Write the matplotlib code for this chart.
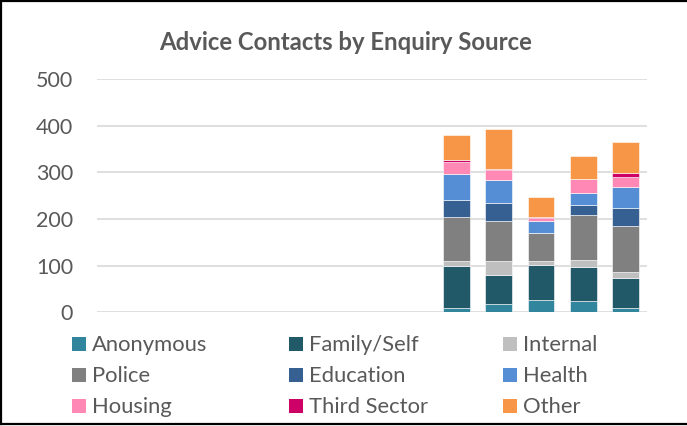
import matplotlib
matplotlib.use("Agg")
import matplotlib.pyplot as plt
from matplotlib.patches import Rectangle
from matplotlib.lines import Line2D
import numpy as np

# ---- data ----
periods = [str(i) for i in range(1, 14)]  # 13 periods, first 8 empty
series = ["Anonymous", "Family/Self", "Internal", "Police", "Education",
          "Health", "Housing", "Third Sector", "Other"]
empty = [np.nan] * 8
anonymous    = empty + [9, 18, 27, 24, 9]
family_self  = empty + [91, 61, 74, 73, 65]
internal     = empty + [11, 31, 10, 16, 12]
police       = empty + [93, 85, 58, 95, 100]
education    = empty + [37, 40, 0, 21, 38]
health       = empty + [56, 49, 26, 27, 45]
housing      = empty + [25, 22, 7, 29, 22]
third_sector = empty + [5, 2, 2, 0, 8]
other        = empty + [52, 85, 43, 49, 65]

values = [anonymous, family_self, internal, police, education,
          health, housing, third_sector, other]
colors = ["#31859C", "#215968", "#BFBFBF", "#808080", "#376092",
          "#558ED5", "#FF88B4", "#CC0066", "#F79646"]
yticks = [0, 100, 200, 300, 400, 500]

W, H = 687, 426
TXT = "#595959"
FONT = "Lato"
FS_LEG = 15.8
FS_TICK = 15.5
FS_TITLE = 17.2

fig = plt.figure(figsize=(W / 100, H / 100), dpi=100)
ax = fig.add_axes([96.7 / W, 1 - 312.3 / H, 550 / W, (312.3 - 79) / H])

x = np.arange(len(periods))
bottom = np.zeros(len(periods))
for name, vals, c in zip(series, values, colors):
    v = np.nan_to_num(np.array(vals, dtype=float))
    ax.bar(x, v, bottom=bottom, width=0.63, color=c, label=name,
           edgecolor="white", linewidth=0.4, zorder=3)
    bottom += v

ax.set_xlim(-0.5, len(periods) - 0.5)
ax.set_ylim(0, 500)
ax.set_yticks(yticks)
ax.set_yticklabels([str(t) for t in yticks], fontsize=FS_TICK, color=TXT, family=FONT)
ax.set_xticks([])
ax.tick_params(axis="y", length=0, pad=17)
for s in ax.spines.values():
    s.set_visible(False)
ax.grid(axis="y", color="#D9D9D9", linewidth=1.2, zorder=0)
ax.set_axisbelow(True)

# title
fig.text(345.9 / W, 1 - 50 / H, "Advice Contacts by Enquiry Source",
         ha="center", va="baseline", fontsize=FS_TITLE, fontweight="bold",
         color=TXT, family=FONT)

# legend (row-wise, 3 columns)
col_x = [72, 289, 503]
row_y = [344, 375, 406]
for i, (name, c) in enumerate(zip(series, colors)):
    r, cidx = divmod(i, 3)
    mx, my = col_x[cidx], row_y[r]
    fig.add_artist(Rectangle((mx / W, 1 - (my + 7) / H), 14 / W, 14 / H,
                             transform=fig.transFigure, facecolor=c,
                             edgecolor="none"))
    fig.text((mx + 20) / W, 1 - (my + 7) / H, name, ha="left", va="baseline",
             fontsize=FS_LEG, color=TXT, family=FONT)

# figure border (left, top, bottom)
bl = dict(color="black", linewidth=1.6, transform=fig.transFigure)
fig.add_artist(Line2D([1 / W, 1 / W], [1 - 424 / H, 1 - 1 / H], **bl))
fig.add_artist(Line2D([0, 1], [1 - 1 / H, 1 - 1 / H], **bl))
fig.add_artist(Line2D([0, 1], [1 - 424 / H, 1 - 424 / H], **bl))

fig.savefig("out.png", dpi=100)
